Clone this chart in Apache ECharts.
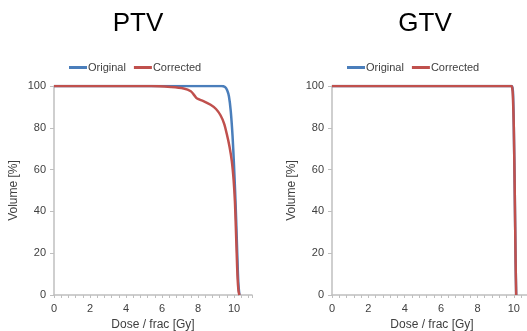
<!DOCTYPE html>
<html>
<head>
<meta charset="utf-8">
<script src="https://cdn.jsdelivr.net/npm/echarts@6/dist/echarts.min.js"></script>
<style>
    html, body { margin: 0; padding: 0; background: #fff; }
    #chart { width: 527px; height: 331px; }
</style>
</head>
<body>
<div id="chart"></div>
<script>
// dose [Gy] / volume [%] pairs
let ptv_orig_dose = [0, 9.3, 9.5, 9.62, 9.72, 9.82, 9.92, 10.0, 10.06, 10.12, 10.18, 10.24, 10.3];
let ptv_orig_vol = [100, 100, 99.5, 98, 95, 88, 76, 62, 50, 36, 20, 6, 0];

let ptv_corr_dose = [0, 5.4, 6.5, 7.2, 7.6, 7.8, 7.95, 8.3, 8.7, 9.0, 9.25, 9.45, 9.6, 9.75, 9.88, 9.98, 10.05, 10.1, 10.15, 10.2, 10.25, 10.3];
let ptv_corr_vol = [100, 100, 99.5, 98.8, 97.5, 95.5, 94, 92.8, 91, 89, 86, 82, 77, 71, 64, 55, 45, 33, 20, 8, 2, 0];

let gtv_orig_dose = [0, 9.88, 9.93, 9.96, 10.0, 10.05, 10.1, 10.13];
let gtv_orig_vol = [100, 100, 99, 96, 80, 50, 15, 0];

let gtv_corr_dose = [0, 9.86, 9.92, 9.95, 10.0, 10.05, 10.1, 10.13];
let gtv_corr_vol = [100, 100, 98.5, 95, 80, 50, 15, 0];

let x_ticks = [0, 2, 4, 6, 8, 10];
let y_ticks = [0, 20, 40, 60, 80, 100];

let blue = '#4a7ebb';
let red = '#c0504d';

function pairs(xs, ys) {
    return xs.map((x, i) => [x, ys[i]]);
}

let chart = echarts.init(document.getElementById('chart'));

let axis_text = { color: '#404040', fontSize: 11, fontFamily: 'Liberation Sans' };
let name_text = { color: '#404040', fontSize: 12, fontFamily: 'Liberation Sans' };
let axis_line = { show: true, lineStyle: { color: '#bfbfbf', width: 1.5 } };

function make_x(idx) {
    return {
        gridIndex: idx,
        type: 'value',
        min: 0,
        max: 11,
        interval: 2,
        name: 'Dose / frac [Gy]',
        nameLocation: 'middle',
        nameGap: 24,
        nameTextStyle: name_text,
        axisLine: axis_line,
        axisTick: { show: true, length: 3, lineStyle: { color: '#bfbfbf' } },
        minorTick: { show: true, splitNumber: 5, length: 3, lineStyle: { color: '#bfbfbf' } },
        axisLabel: Object.assign({ margin: 8, showMaxLabel: false }, axis_text),
        splitLine: { show: false }
    };
}

function make_y(idx) {
    return {
        gridIndex: idx,
        type: 'value',
        min: 0,
        max: 100,
        interval: 20,
        name: 'Volume [%]',
        nameLocation: 'middle',
        nameGap: 34,
        nameTextStyle: name_text,
        axisLine: axis_line,
        axisTick: { show: true, length: 4, lineStyle: { color: '#bfbfbf' } },
        axisLabel: Object.assign({ margin: 8 }, axis_text),
        splitLine: { show: false }
    };
}

function line(name, color, data, idx) {
    return {
        name: name,
        type: 'line',
        xAxisIndex: idx,
        yAxisIndex: idx,
        showSymbol: false,
        smooth: 0.3,
        lineStyle: { color: color, width: 2.5 },
        itemStyle: { color: color },
        data: data
    };
}

let legend_base = {
    data: ['Original', 'Corrected'],
    top: 57,
    itemWidth: 18,
    itemHeight: 3,
    itemGap: 8,
    icon: 'rect',
    textStyle: { color: '#404040', fontSize: 11, fontFamily: 'Liberation Sans', padding: [0, 0, 0, -4] }
};

let option = {
    animation: false,
    backgroundColor: '#fff',
    title: [
        { text: 'PTV', left: 133, top: 6, textAlign: 'center',
          textStyle: { fontSize: 26, fontWeight: 'normal', color: '#000', fontFamily: 'Liberation Sans' } },
        { text: 'GTV', left: 420, top: 6, textAlign: 'center',
          textStyle: { fontSize: 26, fontWeight: 'normal', color: '#000', fontFamily: 'Liberation Sans' } }
    ],
    legend: [
        Object.assign({ left: 64 }, legend_base),
        Object.assign({ left: 342 }, legend_base)
    ],
    grid: [
        { left: 54, right: 275, top: 86, bottom: 36, outerBoundsMode: 'none' },
        { left: 332, right: -5, top: 86, bottom: 36, outerBoundsMode: 'none' }
    ],
    xAxis: [make_x(0), make_x(1)],
    yAxis: [make_y(0), make_y(1)],
    series: [
        line('Original', blue, pairs(ptv_orig_dose, ptv_orig_vol), 0),
        line('Corrected', red, pairs(ptv_corr_dose, ptv_corr_vol), 0),
        line('Original', blue, pairs(gtv_orig_dose, gtv_orig_vol), 1),
        line('Corrected', red, pairs(gtv_corr_dose, gtv_corr_vol), 1)
    ]
};

chart.setOption(option);
</script>
</body>
</html>
